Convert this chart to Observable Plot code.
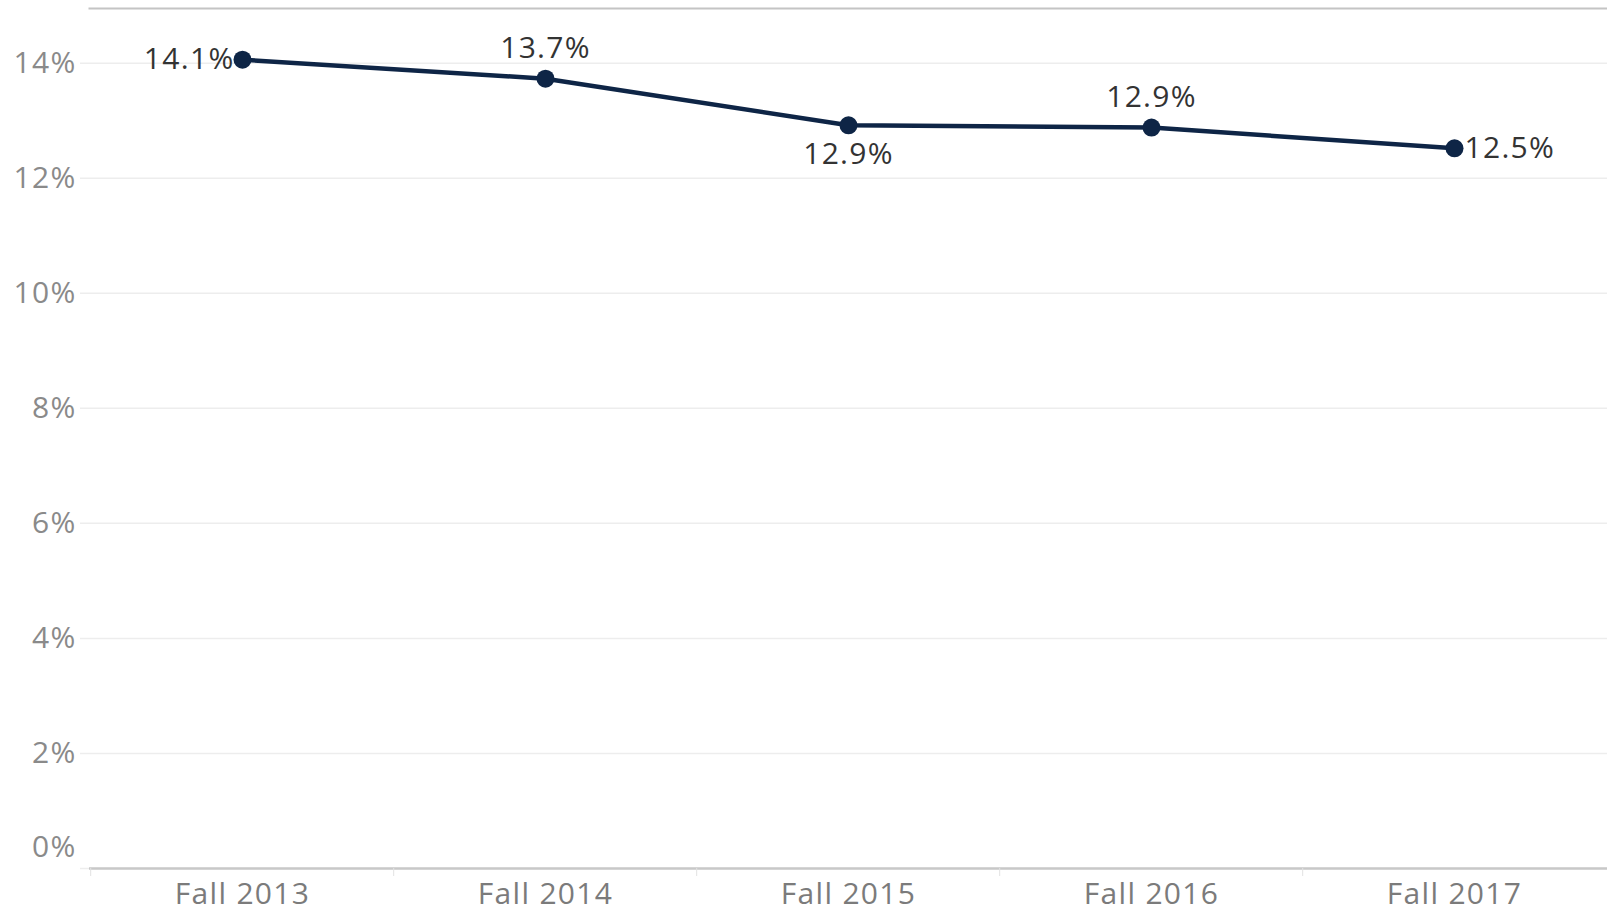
<!DOCTYPE html>
<html><head><meta charset="utf-8">
<script src="https://cdn.jsdelivr.net/npm/d3@7"></script>
<script src="https://cdn.jsdelivr.net/npm/@observablehq/plot@0.6"></script>
<style>html,body{margin:0;padding:0;background:#fff;} svg{display:block} svg text{letter-spacing:1.3px}</style>
</head><body><div id="chart"></div>
<script>
const terms = ["Fall 2013", "Fall 2014", "Fall 2015", "Fall 2016", "Fall 2017"];
const rates = [14.06, 13.73, 12.92, 12.88, 12.52];
const labelPos = ["left", "top", "bottom", "top", "right"];
const yTicks = [0, 2, 4, 6, 8, 10, 12, 14];

const data = terms.map((t, i) => ({term: t, rate: rates[i], pos: labelPos[i]}));
const W = 1607, H = 916, mL = 89, mR = 0, mT = 8, mB = 48;
const half = (W - mL - mR) / terms.length / 2;
const font = "'Open Sans', sans-serif";
const navy = "#0e2546";
const fmt = d3.format(".1f");
const lab = (pos, opts) => Plot.text(data.filter(d => d.pos === pos), {
  x: "term", y: "rate", text: d => fmt(d.rate) + "%", fill: "#333", fontSize: 30, ...opts
});
const yAxisOpts = {tickSize: 0, tickPadding: 13, tickFormat: d => d + "%", fontSize: 30, fill: "#8a8a8a"};

const chart = Plot.plot({
  width: W, height: H, marginLeft: mL, marginRight: mR, marginTop: mT, marginBottom: mB,
  style: {fontFamily: font, background: "#fff"},
  x: {type: "point", domain: terms, padding: 0.5, label: null},
  y: {domain: [0, 14.95], label: null},
  marks: [
    Plot.ruleY(yTicks, {stroke: "#ededed", strokeWidth: 1.5, insetLeft: -9}),
    Plot.frame({anchor: "top", stroke: "#c4c4c4", strokeWidth: 2}),
    Plot.ruleY([0], {stroke: "#c8c8c8", strokeWidth: 2.5}),
    Plot.axisX({tickSize: 8, tickFormat: () => "", dx: -half, stroke: "#e2e2e2"}),
    Plot.axisX({tickSize: 0, tickPadding: 14, fontSize: 30, fill: "#7b7b7b"}),
    Plot.axisY({ticks: yTicks.filter(t => t > 0), ...yAxisOpts}),
    Plot.axisY({ticks: [0], dy: -21, ...yAxisOpts}),
    Plot.line(data, {x: "term", y: "rate", stroke: navy, strokeWidth: 4.5}),
    Plot.dot(data, {x: "term", y: "rate", fill: navy, r: 9}),
    lab("left", {textAnchor: "end", dx: -8}),
    lab("right", {textAnchor: "start", dx: 10}),
    lab("top", {dy: -30}),
    lab("bottom", {dy: 29})
  ]
});
document.getElementById("chart").append(chart);
</script>
</body></html>
